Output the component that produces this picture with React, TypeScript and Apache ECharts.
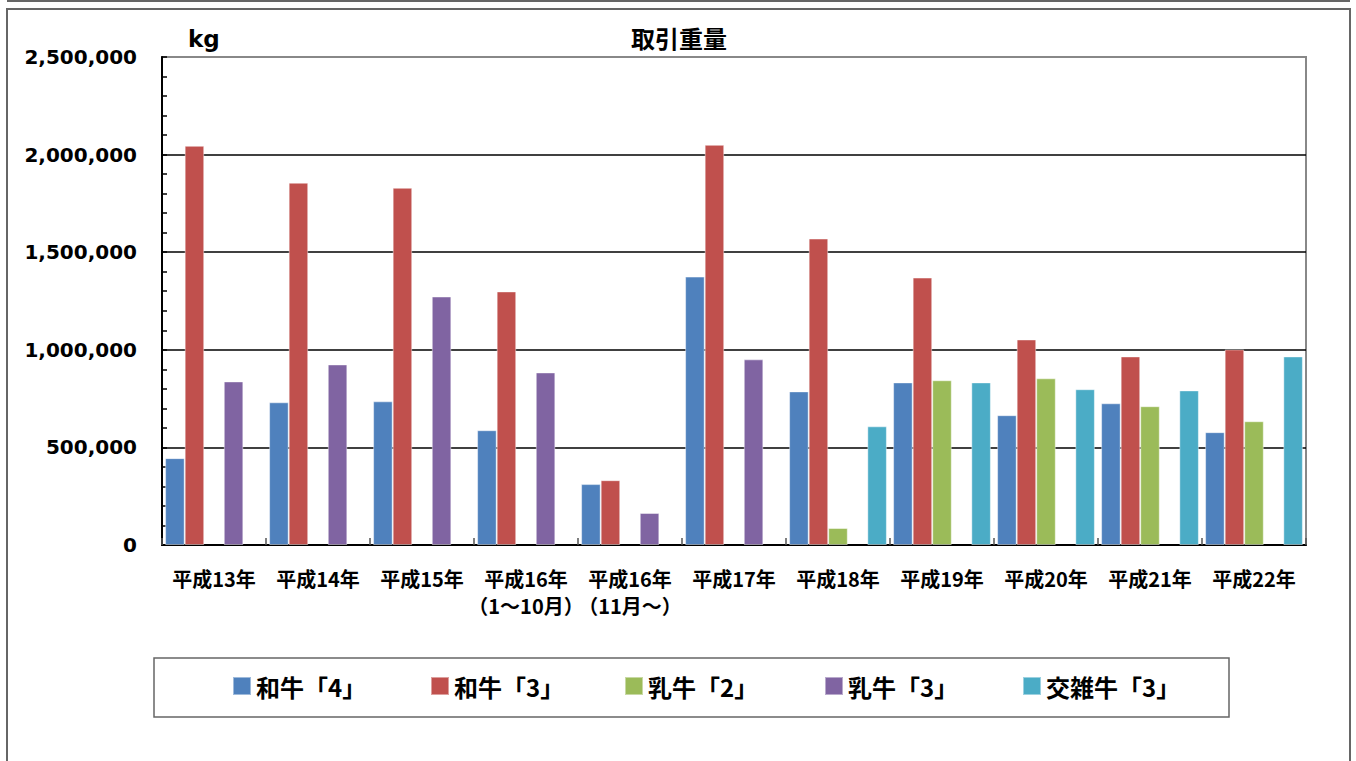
import React, { useEffect, useRef } from "react";
import * as echarts from "echarts";

const categories = [
  "平成13年",
  "平成14年",
  "平成15年",
  "平成16年\n（1～10月）",
  "平成16年\n（11月～）",
  "平成17年",
  "平成18年",
  "平成19年",
  "平成20年",
  "平成21年",
  "平成22年",
];

const seriesNames = ["和牛「4」", "和牛「3」", "乳牛「2」", "乳牛「3」", "交雑牛「3」"];
const seriesColors = ["#4F81BD", "#C0504D", "#9BBB59", "#8064A2", "#4BACC6"];

const wagyu4 = [445000, 731000, 736000, 588000, 312000, 1375000, 787000, 833000, 665000, 726000, 578000];
const wagyu3 = [2045000, 1856000, 1830000, 1299000, 332000, 2050000, 1570000, 1370000, 1053000, 966000, 1002000];
const nyugyu2 = [null, null, null, null, null, null, 87000, 844000, 854000, 711000, 634000];
const nyugyu3 = [838000, 925000, 1273000, 884000, 164000, 951000, null, null, null, null, null];
const kozatsu3 = [null, null, null, null, null, null, 608000, 833000, 798000, 792000, 966000];

const seriesValues = [wagyu4, wagyu3, nyugyu2, nyugyu3, kozatsu3];

const yTicks = [0, 500000, 1000000, 1500000, 2000000, 2500000];
const legendLefts = [227, 425, 619, 819, 1017];

const JP = '"Noto Sans CJK JP", "Noto Sans", sans-serif';
const LAT = '"DejaVu Sans", Verdana, sans-serif';

export default function App() {
  const ref = useRef<HTMLDivElement>(null);

  useEffect(() => {
    if (!ref.current) return;
    const chart = echarts.init(ref.current, undefined, { renderer: "svg" });
    const option: any = {
      animation: false,
      backgroundColor: "#ffffff",
      title: {
        text: "取引重量",
        left: 674,
        textAlign: "center",
        top: 20,
        textStyle: { fontFamily: JP, fontWeight: "bold", fontSize: 24, color: "#000" },
      },
      grid: {
        left: 162,
        top: 57,
        right: 50,
        bottom: 216,
        show: true,
        borderColor: "#888",
        borderWidth: 2,
        backgroundColor: "#fff",
      },
      legend: seriesNames.map((n, i) => ({
        data: [n],
        left: legendLefts[i],
        top: 669,
        icon: "rect",
        itemWidth: 18,
        itemHeight: 18,
        selectedMode: false,
        textStyle: { fontFamily: JP, fontWeight: "bold", fontSize: 24, color: "#000" },
      })),
      xAxis: {
        type: "category",
        data: categories,
        boundaryGap: true,
        axisLine: { show: true, lineStyle: { color: "#000", width: 2 } },
        axisTick: { show: true, inside: true, length: 7, lineStyle: { color: "#555", width: 1.5 } },
        axisLabel: {
          interval: 0,
          margin: 20,
          fontFamily: JP,
          fontWeight: "bold",
          fontSize: 20,
          lineHeight: 27,
          color: "#000",
        },
        splitLine: { show: false },
      },
      yAxis: {
        type: "value",
        min: 0,
        max: 2500000,
        interval: 500000,
        axisLine: { show: true, lineStyle: { color: "#000", width: 2 } },
        axisTick: { show: true, inside: true, length: 5, lineStyle: { color: "#000", width: 1.5 } },
        minorTick: { show: true, splitNumber: 5, length: 5, lineStyle: { color: "#000", width: 1.5 } },
        axisLabel: {
          margin: 25,
          fontFamily: LAT,
          fontWeight: "bold",
          fontSize: 20,
          color: "#000",
          formatter: (v: number) => (yTicks.indexOf(v) >= 0 ? v.toLocaleString("en-US") : ""),
        },
        splitLine: {
          show: true,
          lineStyle: { color: ["#000", "#000", "#000", "#000", "#000", "#888"], width: 1.5 },
        },
      },
      series: seriesNames.map((n, i) => ({
        name: n,
        type: "bar",
        data: seriesValues[i],
        barGap: "0%",
        barCategoryGap: "6%",
        itemStyle: { color: seriesColors[i], borderColor: "rgba(255,255,255,0.45)", borderWidth: 1 },
      })),
      graphic: [
        {
          type: "line",
          shape: { x1: 7, y1: 1, x2: 1350, y2: 1 },
          style: { stroke: "#666", lineWidth: 2 },
        },
        {
          type: "rect",
          shape: { x: 7, y: 9, width: 1343, height: 770 },
          style: { fill: "none", stroke: "#666", lineWidth: 2 },
          z: -10,
        },
        {
          type: "rect",
          shape: { x: 154, y: 658, width: 1075, height: 59 },
          style: { fill: "none", stroke: "#666", lineWidth: 1.5 },
        },
        {
          type: "text",
          x: 188,
          y: 27,
          style: { text: "kg", fontFamily: LAT, fontWeight: "bold", fontSize: 23, fill: "#000" },
        },
      ],
    };
    chart.setOption(option);
    return () => chart.dispose();
  }, []);

  return (
    <div
      ref={ref}
      style={{ position: "fixed", left: 0, top: 0, width: 1356, height: 761 }}
    />
  );
}
